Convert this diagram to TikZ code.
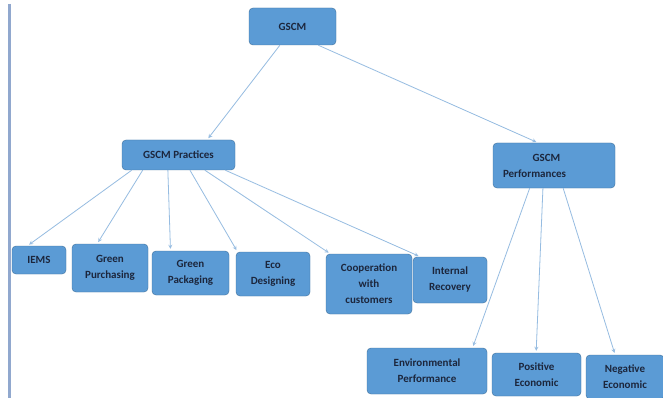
\documentclass[tikz,border=0pt]{standalone}
\usepackage{fontspec}
\setmainfont{Carlito}
\usepackage{tikz}

\definecolor{boxfill}{RGB}{91,155,213}
\definecolor{boxline}{RGB}{65,113,156}
\definecolor{boxtext}{RGB}{28,38,60}
\definecolor{linkcol}{RGB}{150,188,225}
\definecolor{barcol}{RGB}{145,168,206}

\begin{document}
\begin{tikzpicture}[
    x = 1pt, y = -1pt,
    > = stealth,
    box/.style = {draw = boxline,
      fill = boxfill,
      rounded corners = 4pt,
      align = center,
      text = boxtext,
      inner sep = 2pt,
      font = \fontsize{11}{16}\selectfont\bfseries},
    link/.style = {->,
      draw = linkcol,
      line width = 0.8pt,
      shorten > = 2pt},
    ]

    \useasboundingbox (0, 0) rectangle (663, 398);
    \fill [white] (0, 0) rectangle (663, 398);

    % margin bar
    \draw [barcol, line width = 3pt] (9, 4) -- (9, 398);

    \node at (292.5, 26.5)
    [box, minimum width = 87, minimum height = 37, name = GSCM] {GSCM};

    \node at (178.5, 155)
    [box, minimum width = 113, minimum height = 30, name = GSCM_p] {GSCM Practices};
    \node at (554, 165.5)
    [box, minimum height = 45, align = left, text width = 102pt,
      inner xsep = 10pt, name = GSCM_perf]
    {\hspace*{2.7em}GSCM\\Performances};

    \node at (39, 260)
    [box, minimum width = 54, minimum height = 28, name = IEMS] {IEMS};
    \node at (110, 268)
    [box, minimum width = 76, minimum height = 48, name = G_purch] {Green\\Purchasing};
    \node at (190.5, 273)
    [box, minimum width = 77, minimum height = 44, name = G_pack] {Green\\Packaging};
    \node at (273, 274)
    [box, minimum width = 74, minimum height = 44, name = Eco] {Eco\\Designing};
    \node at (369, 284)
    [box, minimum width = 86, minimum height = 60, name = Coop] {Cooperation\\with\\customers};
    \node at (450, 280)
    [box, minimum width = 74, minimum height = 46, name = Int_rec] {Internal\\Recovery};

    \node at (427, 371)
    [box, minimum width = 120, minimum height = 46, name = Env] {Environmental\\Performance};
    \node at (536.5, 374.5)
    [box, minimum width = 89, minimum height = 43, name = Pos] {Positive\\Economic};
    \node at (625, 377)
    [box, minimum width = 78, minimum height = 44, name = Neg] {Negative\\Economic};

    \draw [link] (GSCM.236) to (GSCM_p.28);
    \draw [link] (GSCM.324) to (GSCM_perf.125);

    \draw [link] (GSCM_p.198) to (IEMS.129);
    \draw [link] (GSCM_p.203) to (G_purch.118);
    \draw [link] (GSCM_p.235) to (G_pack.132);
    \draw [link] (GSCM_p.307) to (Eco.148);
    \draw [link] (GSCM_p.330) to (Coop.142);
    \draw [link] (GSCM_p.342) to (Int_rec.142);

    \draw [link] (GSCM_perf.223) to (Env.27);
    \draw [link] (GSCM_perf.244) to (Pos.91);
    \draw [link] (GSCM_perf.292) to (Neg.114);
  \end{tikzpicture}
\end{document}
